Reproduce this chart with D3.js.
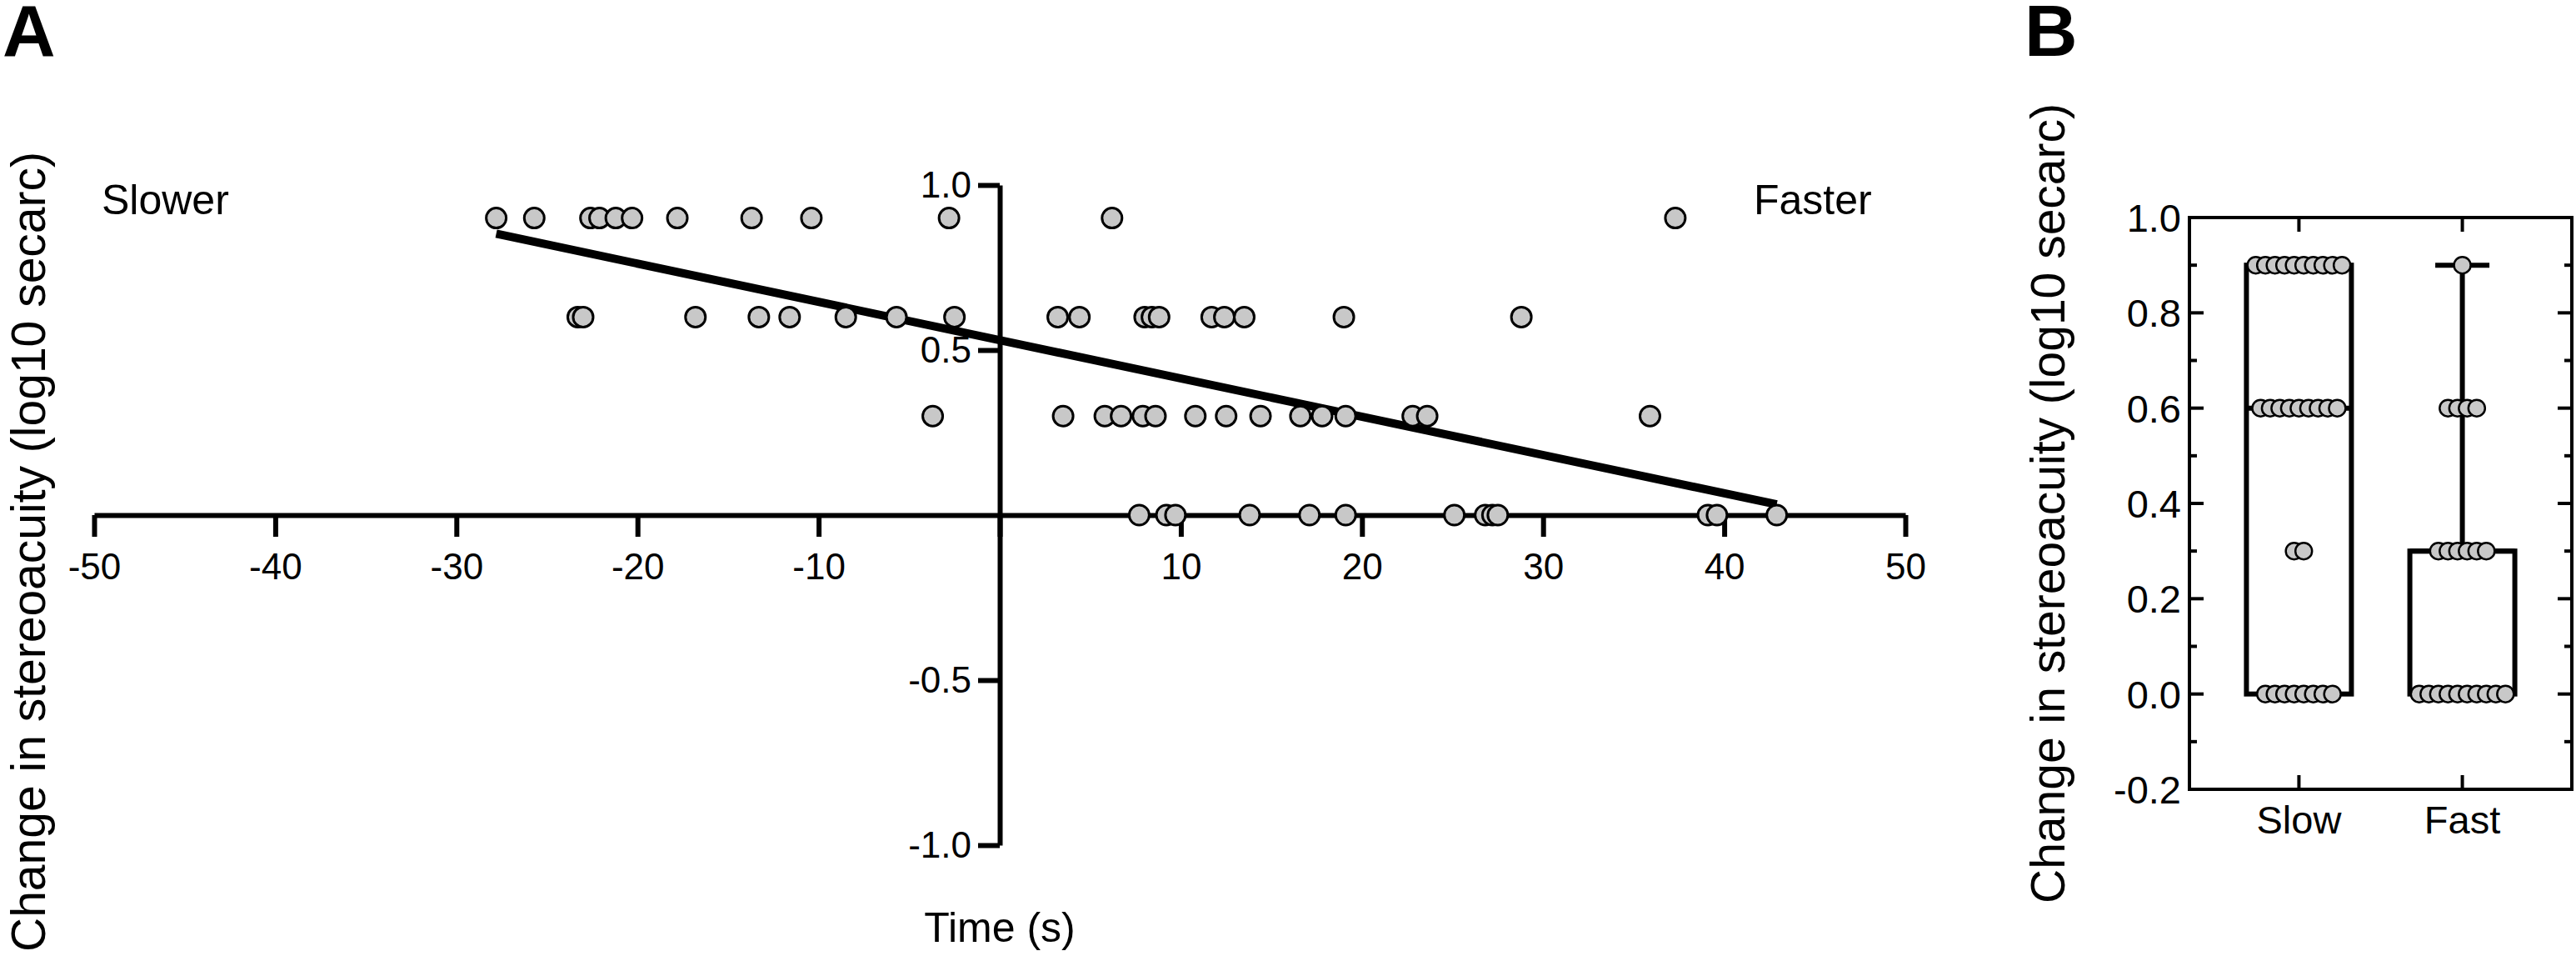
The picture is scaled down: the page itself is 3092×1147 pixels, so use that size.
<!DOCTYPE html>
<html>
<head>
<meta charset="utf-8">
<script src="https://cdn.jsdelivr.net/npm/d3@7"></script>
<style>
  body { margin: 0; background: #fff; }
  text { font-family: "Liberation Sans", Arial, sans-serif; fill: #000; }
</style>
</head>
<body>
<svg id="chart" width="3092" height="1147"></svg>
<script>
// Panel A: time (s) of each point, one array per stereoacuity row
const rowValues = [0.9, 0.6, 0.3, 0.0];
const row09Times = [-27.8, -25.7, -22.6, -22.1, -21.2, -20.3, -17.8, -13.7, -10.4, -2.8, 6.2, 37.3];
const row06Times = [-23.3, -23.0, -16.8, -13.3, -11.6, -8.5, -5.7, -2.5, 3.2, 4.4, 8.0, 8.4, 8.8, 11.7, 12.4, 13.5, 19.0, 28.8];
const row03Times = [-3.7, 3.5, 5.8, 6.7, 7.9, 8.6, 10.8, 12.5, 14.4, 16.6, 17.8, 19.1, 22.8, 23.6, 35.9];
const row00Times = [7.7, 9.2, 9.7, 13.8, 17.1, 19.1, 25.1, 26.8, 27.2, 27.5, 39.1, 39.6, 42.9];
// fitted line
const fitIntercept = 0.53;
const fitSlope = -0.0116;
const xTicksA = [-50, -40, -30, -20, -10, 0, 10, 20, 30, 40, 50];
const yTicksA = [-1.0, -0.5, 0.5, 1.0];

// Panel B: stereoacuity change per group
const groups = ["Slow", "Fast"];
const slowValues = [0.9, 0.9, 0.9, 0.9, 0.9, 0.9, 0.9, 0.9, 0.9, 0.9,
                    0.6, 0.6, 0.6, 0.6, 0.6, 0.6, 0.6, 0.6, 0.6,
                    0.3, 0.3,
                    0, 0, 0, 0, 0, 0, 0, 0];
const fastValues = [0.9,
                    0.6, 0.6, 0.6, 0.6,
                    0.3, 0.3, 0.3, 0.3, 0.3, 0.3,
                    0, 0, 0, 0, 0, 0, 0, 0, 0, 0];
const yTicksB = [-0.2, 0, 0.2, 0.4, 0.6, 0.8, 1.0];
const yMinorB = [-0.1, 0.1, 0.3, 0.5, 0.7, 0.9];

const svg = d3.select("#chart");
const fmt1 = d => d.toFixed(1);

// ---------- Panel A ----------
const xA = d3.scaleLinear().domain([-50, 50]).range([113, 2287]);
const yA = d3.scaleLinear().domain([-1, 1]).range([1014, 222]);

const gA = svg.append("g");

// x axis crossing at y = 0
const xAxisA = gA.append("g")
    .attr("transform", "translate(0," + yA(0) + ")")
    .call(d3.axisBottom(xA).tickValues(xTicksA).tickSize(26).tickSizeOuter(0).tickPadding(20)
        .tickFormat(d => d === 0 ? "" : d));

// y axis crossing at x = 0
const yAxisA = gA.append("g")
    .attr("transform", "translate(" + xA(0) + ",0)")
    .call(d3.axisLeft(yA).tickValues(yTicksA).tickSize(26).tickSizeOuter(0).tickPadding(8)
        .tickFormat(fmt1));

[xAxisA, yAxisA].forEach(ax => {
    ax.select(".domain").attr("stroke", "#000").attr("stroke-width", 6);
    ax.selectAll(".tick line").attr("stroke", "#000").attr("stroke-width", 6);
    ax.selectAll(".tick text").attr("font-size", 44).attr("fill", "#000")
        .style("font-family", "'Liberation Sans', Arial, sans-serif");
});

// regression line over the data range
const allTimes = row09Times.concat(row06Times, row03Times, row00Times);
const tMin = d3.min(allTimes), tMax = d3.max(allTimes);
gA.append("line")
    .attr("x1", xA(tMin)).attr("y1", yA(fitIntercept + fitSlope * tMin))
    .attr("x2", xA(tMax)).attr("y2", yA(fitIntercept + fitSlope * tMax))
    .attr("stroke", "#000")
    .attr("stroke-width", 10);

// points
const pointsA = [];
[row09Times, row06Times, row03Times, row00Times].forEach((times, i) => {
    times.forEach(t => pointsA.push({ t: t, v: rowValues[i] }));
});
gA.selectAll(".ptA")
    .data(pointsA)
    .enter().append("circle")
    .attr("class", "ptA")
    .attr("cx", d => xA(d.t))
    .attr("cy", d => yA(d.v))
    .attr("r", 12)
    .attr("fill", "#c8c8c8")
    .attr("stroke", "#000")
    .attr("stroke-width", 3);

gA.append("text").attr("x", 122).attr("y", 257).attr("font-size", 50).text("Slower");
gA.append("text").attr("x", 2105).attr("y", 257).attr("font-size", 50).text("Faster");
gA.append("text").attr("x", xA(0)).attr("y", 1130).attr("font-size", 50)
    .attr("text-anchor", "middle").text("Time (s)");
gA.append("text")
    .attr("transform", "translate(54,662) rotate(-90)")
    .attr("text-anchor", "middle").attr("font-size", 57)
    .text("Change in stereoacuity (log10 secarc)");
gA.append("text").attr("x", 3).attr("y", 67).attr("font-size", 88)
    .attr("font-weight", "bold").text("A");

// ---------- Panel B ----------
const frameL = 2628, frameR = 3087, frameT = 261, frameB = 947;
const xB = d3.scalePoint().domain(groups).range([frameL, frameR]).padding(0.67);
const yB = d3.scaleLinear().domain([-0.2, 1.0]).range([frameB, frameT]);
const gB = svg.append("g");

// frame
gB.append("rect")
    .attr("x", frameL).attr("y", frameT)
    .attr("width", frameR - frameL).attr("height", frameB - frameT)
    .attr("fill", "none").attr("stroke", "#000").attr("stroke-width", 4);

// inward ticks: left and right sides
yTicksB.forEach(v => {
    gB.append("line").attr("x1", frameL).attr("x2", frameL + 17)
        .attr("y1", yB(v)).attr("y2", yB(v)).attr("stroke", "#000").attr("stroke-width", 4);
    gB.append("line").attr("x1", frameR).attr("x2", frameR - 17)
        .attr("y1", yB(v)).attr("y2", yB(v)).attr("stroke", "#000").attr("stroke-width", 4);
    gB.append("text").attr("x", frameL - 10).attr("y", yB(v))
        .attr("dy", "0.36em").attr("text-anchor", "end").attr("font-size", 47)
        .text(fmt1(v));
});
yMinorB.forEach(v => {
    gB.append("line").attr("x1", frameL).attr("x2", frameL + 9)
        .attr("y1", yB(v)).attr("y2", yB(v)).attr("stroke", "#000").attr("stroke-width", 4);
    gB.append("line").attr("x1", frameR).attr("x2", frameR - 9)
        .attr("y1", yB(v)).attr("y2", yB(v)).attr("stroke", "#000").attr("stroke-width", 4);
});
// inward ticks: top and bottom at each group
groups.forEach(g => {
    gB.append("line").attr("x1", xB(g)).attr("x2", xB(g))
        .attr("y1", frameT).attr("y2", frameT + 17).attr("stroke", "#000").attr("stroke-width", 4);
    gB.append("line").attr("x1", xB(g)).attr("x2", xB(g))
        .attr("y1", frameB).attr("y2", frameB - 17).attr("stroke", "#000").attr("stroke-width", 4);
    gB.append("text").attr("x", xB(g)).attr("y", 1000)
        .attr("text-anchor", "middle").attr("font-size", 47).text(g);
});

// box and whiskers (min to max)
const boxW = 126, capW = 65;
const groupData = [slowValues, fastValues];
groupData.forEach((vals, i) => {
    const s = vals.slice().sort(d3.ascending);
    const q1 = d3.quantile(s, 0.25), med = d3.quantile(s, 0.5), q3 = d3.quantile(s, 0.75);
    const lo = d3.min(s), hi = d3.max(s);
    const cx = xB(groups[i]);
    // whiskers
    gB.append("line").attr("x1", cx).attr("x2", cx).attr("y1", yB(q3)).attr("y2", yB(hi))
        .attr("stroke", "#000").attr("stroke-width", 6);
    gB.append("line").attr("x1", cx).attr("x2", cx).attr("y1", yB(q1)).attr("y2", yB(lo))
        .attr("stroke", "#000").attr("stroke-width", 6);
    gB.append("line").attr("x1", cx - capW / 2).attr("x2", cx + capW / 2)
        .attr("y1", yB(hi)).attr("y2", yB(hi)).attr("stroke", "#000").attr("stroke-width", 6);
    gB.append("line").attr("x1", cx - capW / 2).attr("x2", cx + capW / 2)
        .attr("y1", yB(lo)).attr("y2", yB(lo)).attr("stroke", "#000").attr("stroke-width", 6);
    // box
    gB.append("rect")
        .attr("x", cx - boxW / 2).attr("y", yB(q3))
        .attr("width", boxW).attr("height", yB(q1) - yB(q3))
        .attr("fill", "#fff").attr("stroke", "#000").attr("stroke-width", 6);
    // median
    gB.append("line").attr("x1", cx - boxW / 2).attr("x2", cx + boxW / 2)
        .attr("y1", yB(med)).attr("y2", yB(med)).attr("stroke", "#000").attr("stroke-width", 6);
});

// points spread sideways within each value row
const spread = 11.5;
const pointsB = [];
groupData.forEach((vals, i) => {
    const rows = d3.group(vals, v => v);
    rows.forEach((list, v) => {
        const n = list.length;
        list.forEach((val, j) => {
            pointsB.push({ g: groups[i], v: val, off: (j - (n - 1) / 2) * spread });
        });
    });
});
gB.selectAll(".ptB")
    .data(pointsB)
    .enter().append("circle")
    .attr("class", "ptB")
    .attr("cx", d => xB(d.g) + d.off)
    .attr("cy", d => yB(d.v))
    .attr("r", 10)
    .attr("fill", "#c8c8c8")
    .attr("stroke", "#000")
    .attr("stroke-width", 2.5);

gB.append("text")
    .attr("transform", "translate(2478," + ((frameT + frameB) / 2) + ") rotate(-90)")
    .attr("text-anchor", "middle").attr("font-size", 57)
    .text("Change in stereoacuity (log10 secarc)");
gB.append("text").attr("x", 2430).attr("y", 67).attr("font-size", 88)
    .attr("font-weight", "bold").text("B");
</script>
</body>
</html>
